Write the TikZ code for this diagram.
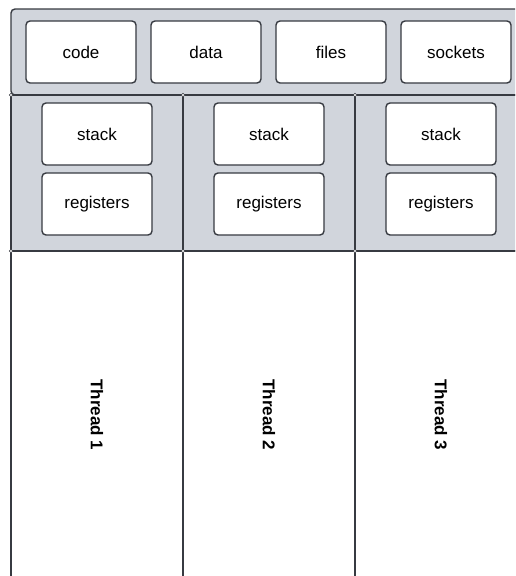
\documentclass[tikz,border=0pt]{standalone}
\usepackage{fontspec}
\setmainfont{Liberation Sans}
\definecolor{ln}{HTML}{373A41}
\definecolor{gr}{HTML}{D1D5DC}
\tikzset{
  box/.style={draw=ln, line width=1.4pt, fill=white, rounded corners=4pt, minimum width=110pt, minimum height=62pt, inner sep=0pt, font=\fontsize{17}{19}\selectfont},
  frame/.style={draw=ln, line width=1.4pt},
  jn/.style={circle, draw=ln, fill=white, line width=0.6pt, inner sep=0pt, minimum size=3.5pt},
  tlabel/.style={rotate=-90, font=\bfseries\fontsize{17}{19}\selectfont}
}
\begin{document}
\begin{tikzpicture}[x=1pt,y=-1pt]
\useasboundingbox (0,0) rectangle (515,576);
\clip (0,0) rectangle (515,576);
% process band
\draw[frame, fill=gr, rounded corners=4pt] (11,95) -- (11,9) -- (535,9) -- (535,95) -- cycle;
% thread columns
\foreach \x in {11,183,355} {
  \draw[frame, fill=gr] (\x,95) rectangle ++(172,156);
  \draw[frame, fill=white] (\x,251) rectangle ++(172,340);
}
% top boxes
\node[box] (code) at (81,52) {code};
\node[box] (data) at (206,52) {data};
\node[box] (files) at (331,52) {files};
\node[box] (sockets) at (456,52) {sockets};
% per-thread boxes
\node[box] (stack1) at (97,134) {stack};
\node[box] (reg1) at (97,204) {registers};
\node[box] (stack2) at (269,134) {stack};
\node[box] (reg2) at (269,204) {registers};
\node[box] (stack3) at (441,134) {stack};
\node[box] (reg3) at (441,204) {registers};
% thread labels
\node[tlabel] (t1) at (97,415) {Thread 1};
\node[tlabel] (t2) at (269,415) {Thread 2};
\node[tlabel] (t3) at (441,415) {Thread 3};
% junctions
\foreach \x in {11,183,355} {
  \node[jn] at (\x,95) {};
  \node[jn] at (\x,251) {};
}
\end{tikzpicture}
\end{document}
